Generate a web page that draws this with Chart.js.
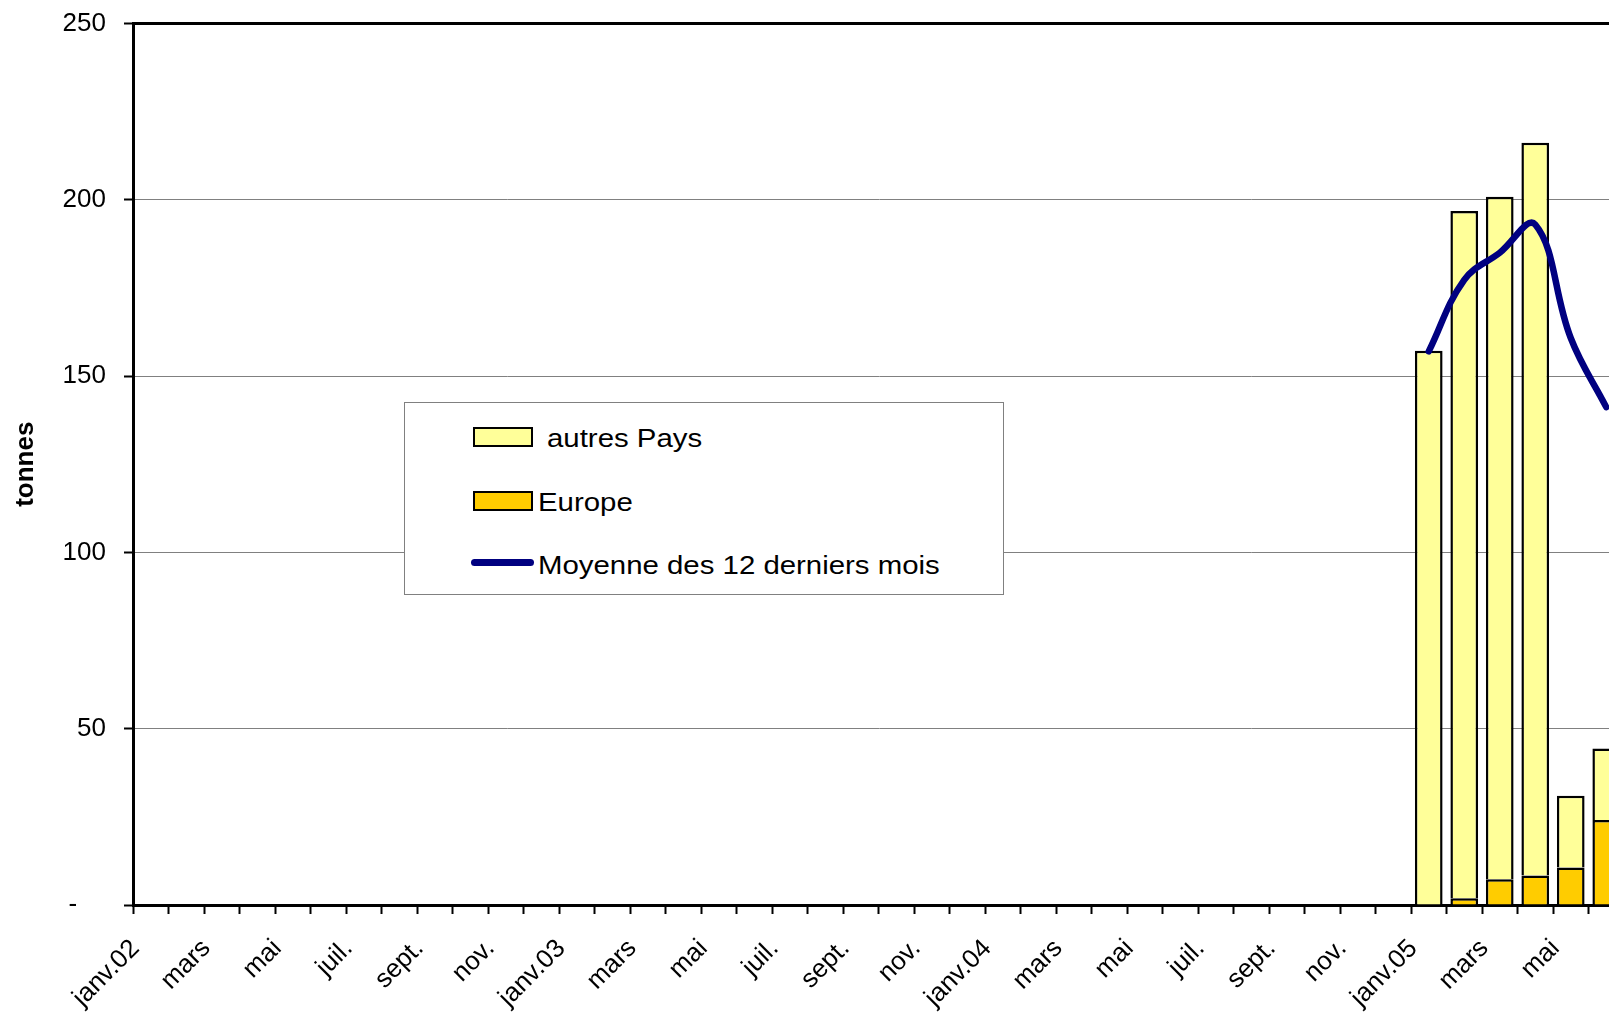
<!DOCTYPE html>
<html lang="fr">
<head>
<meta charset="utf-8">
<title>tonnes</title>
<script src="https://cdn.jsdelivr.net/npm/chart.js@4.4.1/dist/chart.umd.min.js"></script>
<style>
    html, body { margin: 0; padding: 0; background: #fff; overflow: hidden; }
    #zone { position: relative; width: 1640px; height: 1015px; }
    #legende {
        position: absolute; left: 404px; top: 402px; width: 598px; height: 191px;
        border: 1px solid #808080; background: #fff;
        font-family: 'Liberation Sans', Arial, sans-serif; font-size: 26px; line-height: 30px; color: #000;
    }
    #legende .carre { position: absolute; left: 68px; width: 56px; height: 16px; border: 2.5px solid #000; }
    #legende .trait { position: absolute; left: 66px; top: 156px; width: 63px; height: 7px; border-radius: 4px; background: #000080; }
    #legende .txt { position: absolute; white-space: pre; transform: scaleX(1.13); transform-origin: left center; }
</style>
</head>
<body>
<div id="zone">
    <canvas id="graphique"></canvas>
    <div id="legende">
        <div class="carre" style="top: 24px; background: #FFFF99;"></div>
        <div class="txt" style="left: 142px; top: 20px;">autres Pays</div>
        <div class="carre" style="top: 88px; background: #FFCC00;"></div>
        <div class="txt" style="left: 133px; top: 84px;">Europe</div>
        <div class="trait"></div>
        <div class="txt" style="left: 133px; top: 147px;">Moyenne des 12 derniers mois</div>
    </div>
</div>
<script>
// Axe des mois : janv.02 -> juin 05
const moisNoms = ['janv.', 'févr.', 'mars', 'avr.', 'mai', 'juin', 'juil.', 'août', 'sept.', 'oct.', 'nov.', 'déc.'];
const annees = ['02', '03', '04', '05'];
const nbMois = 42;
const moisDebut = 36; // premières données en janv.05

// Valeurs (tonnes), de janv.05 à juin 05
const europe = [0, 1.9, 7.3, 8.4, 10.6, 24.1];
const autresPays = [157.2, 194.9, 193.6, 207.8, 20.4, 20.3];
const moyenne12 = [157.0, 177.3, 185.0, 193.0, 160.8, 141.2];

const graduationsY = [0, 50, 100, 150, 200, 250];

const categories = [];
for (let i = 0; i < nbMois; i++) {
    const m = i % 12;
    categories.push(m === 0 ? 'janv.' + annees[i / 12] : moisNoms[m]);
}

// place les valeurs sur les bons mois
const surAxe = arr => categories.map((_, i) => (i >= moisDebut && i - moisDebut < arr.length) ? arr[i - moisDebut] : null);

const police = "'Liberation Sans', Arial, sans-serif";

new Chart(document.getElementById('graphique'), {
    type: 'bar',
    data: {
        labels: categories,
        datasets: [
            {
                type: 'line',
                label: 'Moyenne des 12 derniers mois',
                data: surAxe(moyenne12),
                borderColor: '#000080',
                borderWidth: 6.5,
                borderCapStyle: 'round',
                tension: 0.4,
                pointRadius: 0,
                fill: false,
                stack: 'moyenne'
            },
            {
                label: 'Europe',
                data: surAxe(europe),
                backgroundColor: '#FFCC00',
                borderColor: '#000',
                borderWidth: 2.5,
                stack: 'pays'
            },
            {
                label: ' autres Pays',
                data: surAxe(autresPays),
                backgroundColor: '#FFFF99',
                borderColor: '#000',
                borderWidth: 2.5,
                stack: 'pays'
            }
        ]
    },
    options: {
        responsive: true,
        maintainAspectRatio: false,
        animation: false,
        layout: { padding: { top: 23.5, right: 16, left: 0, bottom: 0 } },
        datasets: { bar: { barPercentage: 0.78, categoryPercentage: 1 } },
        plugins: { legend: { display: false }, tooltip: { enabled: false } },
        scales: {
            x: {
                stacked: true,
                offset: true,
                afterFit: s => { s.height = 110; },
                grid: { offset: true, drawOnChartArea: false, drawTicks: true, tickLength: 9, tickColor: '#000', tickWidth: 2 },
                border: { color: '#000', width: 3 },
                ticks: {
                    autoSkip: false,
                    maxRotation: 45,
                    minRotation: 45,
                    padding: 4,
                    color: '#000',
                    font: { family: police, size: 26 },
                    // espaces finaux : recule le texte le long de la diagonale
                    callback: (v, i) => (i % 2 === 0 ? categories[i] + '   ' : '')
                }
            },
            y: {
                stacked: true,
                min: graduationsY[0],
                max: graduationsY[graduationsY.length - 1],
                afterFit: s => { s.width = 133; s.paddingTop = 0; s.paddingBottom = 0; },
                afterBuildTicks: s => { s.ticks = graduationsY.map(v => ({ value: v })); },
                grid: {
                    color: c => (c.tick && c.tick.value === 250 ? '#000' : '#808080'),
                    lineWidth: c => (c.tick && c.tick.value === 250 ? 3 : 1),
                    tickLength: 9, tickColor: '#000', tickWidth: 2
                },
                border: { color: '#000', width: 3 },
                title: {
                    display: true,
                    text: 'tonnes',
                    color: '#000',
                    font: { family: police, size: 26, weight: 'bold' },
                    padding: { top: 10, bottom: 0 }
                },
                ticks: {
                    color: '#000',
                    padding: 18,
                    font: { family: police, size: 26 },
                    callback: v => (v === 0 ? '-    ' : v)
                }
            }
        }
    }
});
</script>
</body>
</html>
